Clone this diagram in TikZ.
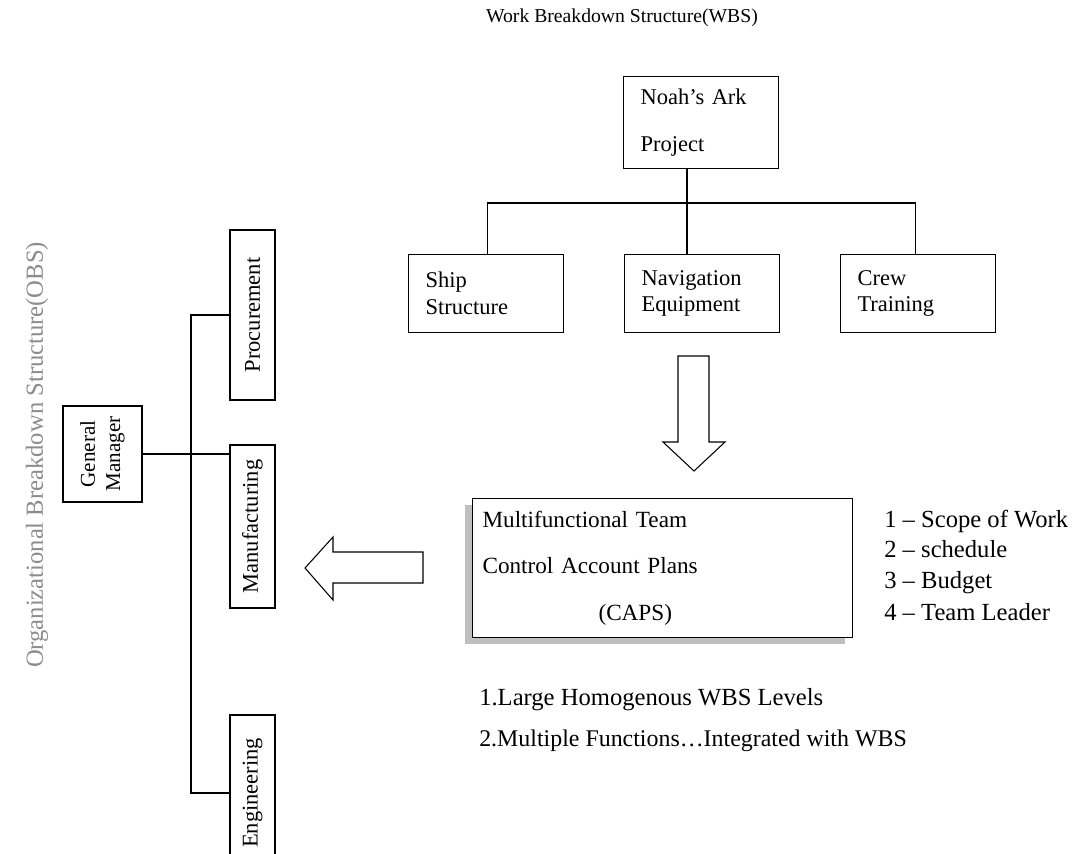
\documentclass[tikz,border=0pt]{standalone}
\usepackage{fontspec}
\setmainfont{Liberation Serif}
\begin{document}
\begin{tikzpicture}[x=0.25mm,y=-0.25mm,
  box/.style={draw, line width=0.75pt, fill=white, inner sep=0pt},
  wbsbox/.style={box, anchor=north west, minimum width=38.75mm, minimum height=19.5mm,
    text width=30.25mm, align=left, font=\fontsize{16}{19}\selectfont},
  obsbox/.style={box, rotate=90, minimum height=11.25mm, font=\fontsize{16}{19}\selectfont},
  link/.style={line width=0.75pt},
  blockarrow/.style={draw, line width=0.75pt, fill=white, line join=miter},
  note/.style={anchor=base west, inner sep=0pt, font=\fontsize{17.5}{20}\selectfont}
]
\useasboundingbox[fill=white] (0,0) rectangle (1092,853);
\clip (0,0) rectangle (1092,853);

% ---- Work breakdown structure ----
\node[inner sep=0pt, font=\fontsize{14}{17}\selectfont] (wbstitle) at (622,18) {Work Breakdown Structure(WBS)};

\node[wbsbox, minimum height=23mm, font=\fontsize{16}{34}\selectfont] (noah) at (623,76) {Noah's Ark\\Project};
\node[wbsbox] (ship) at (408,254) {Ship\\Structure};
\node[wbsbox] (nav)  at (624,254) {Navigation\\Equipment};
\node[wbsbox] (crew) at (840,254) {Crew\\Training};

% tree connectors of the WBS
\coordinate (trunk) at (687,203);
\draw[link] (noah.south -| trunk) -- (nav.north -| trunk);
\draw[link] ([xshift=0.25mm]ship.north) |- (trunk) -| ([xshift=-0.75mm]crew.north);

% down arrow from the WBS to the control accounts
\draw[blockarrow] (678,356) -- (709,356) -- (709,442) -- (725,442) -- (694,471)
  -- (663,442) -- (678,442) -- cycle;

% ---- Control account plans ----
\fill[gray!50] (465,505) rectangle (845,644);
\node[box, anchor=north west, minimum width=95mm, minimum height=34.75mm,
  text width=90mm, align=left, font=\fontsize{16.5}{33}\selectfont] (caps) at (472,498)
  {Multifunctional Team\\Control Account Plans\\\hspace*{29mm}(CAPS)};

\node[note] (item1) at (884,527) {1 -- Scope of Work};
\node[note] (item2) at (884,557) {2 -- schedule};
\node[note] (item3) at (884,588) {3 -- Budget};
\node[note] (item4) at (884,620) {4 -- Team Leader};

\node[note] (level1) at (479,705) {1.Large Homogenous WBS Levels};
\node[note, font=\fontsize{17}{20}\selectfont] (level2) at (479,746) {2.Multiple Functions\dots Integrated with WBS};

% left arrow from the control accounts to the OBS
\draw[blockarrow] (423,552) -- (423,583) -- (333,583) -- (333,600) -- (305,568)
  -- (333,537) -- (333,552) -- cycle;

% ---- Organizational breakdown structure ----
\node[rotate=90, inner sep=0pt, text=gray!90, font=\fontsize{17.5}{20}\selectfont]
  (obstitle) at (37,455) {Organizational Breakdown Structure(OBS)};

\node[box, rotate=90, minimum width=24mm, minimum height=19.75mm, align=center,
  font=\fontsize{15}{18}\selectfont] (gm) at (102.5,454) {General\\Manager};
\node[obsbox, minimum width=42.5mm] (proc) at (252.5,315) {Procurement};
\node[obsbox, minimum width=40.75mm] (mfg) at (252.5,526.5) {Manufacturing};
\node[obsbox, minimum width=39mm] (eng) at (252.5,793) {Engineering};

% tree connectors of the OBS
\coordinate (obsbus) at (191,454);
\draw[link] (gm.south) -- (gm.south -| mfg.north);
\draw[link] (proc.north) -| (obsbus) |- (eng.north);
\end{tikzpicture}
\end{document}
